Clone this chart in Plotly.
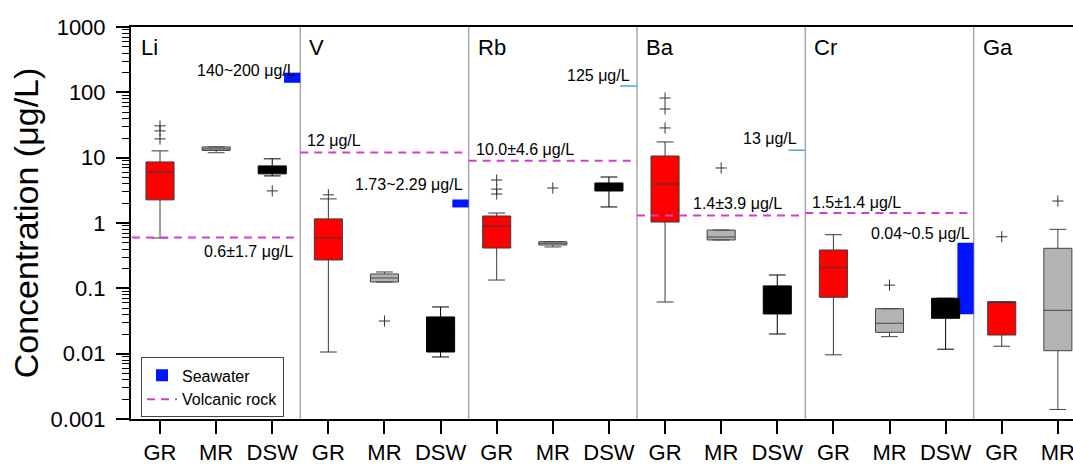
import math
import plotly.graph_objects as go

# ---------------- data ----------------
elements = ["Li", "V", "Rb", "Ba", "Cr", "Ga"]
groups = ["GR", "MR", "DSW"]

# GR (groundwater) box statistics, one per element
gr_lo = [0.59, 0.0106, 0.134, 0.0618, 0.0096, 0.013]
gr_q1 = [2.26, 0.272, 0.414, 1.035, 0.073, 0.0193]
gr_med = [6.07, 0.59, 0.90, 3.95, 0.207, 0.0625]
gr_q3 = [8.6, 1.156, 1.28, 10.6, 0.386, 0.0625]
gr_hi = [12.7, 2.34, 1.42, 17.4, 0.662, 0.0625]
gr_out = [[19.4, 25.7, 30.7], [2.7], [2.78, 3.3, 4.55], [28.5, 55.6, 81.9], [], [0.616]]

# MR box statistics
mr_lo = [11.9, 0.125, 0.43, 0.55, 0.0182, 0.0014]
mr_q1 = [12.9, 0.125, 0.46, 0.55, 0.0212, 0.0111]
mr_med = [13.6, 0.144, 0.49, 0.61, 0.0292, 0.0461]
mr_q3 = [14.6, 0.166, 0.518, 0.78, 0.0488, 0.41]
mr_hi = [14.6, 0.178, 0.518, 0.78, 0.0488, 0.80]
mr_out = [[], [0.0316], [3.43], [6.95], [0.112], [2.17]]

# DSW box statistics (Ga DSW lies outside the visible area)
dsw_lo = [5.26, 0.0089, 1.76, 0.020, 0.0117]
dsw_q1 = [5.65, 0.0106, 3.09, 0.0405, 0.0348]
dsw_med = [6.3, 0.020, 3.5, 0.065, 0.050]
dsw_q3 = [7.48, 0.0365, 4.1, 0.109, 0.0705]
dsw_hi = [9.6, 0.0519, 5.06, 0.16, 0.0705]
dsw_out = [[3.1], [], [], [], []]

# Seawater reference (range or single value)
sw_low = [140, 1.73, None, None, 0.04, None]
sw_high = [200, 2.29, None, None, 0.5, None]
sw_single = [None, None, 125, 13, None, None]
sw_text = ["140~200 μg/L", "1.73~2.29 μg/L", "125 μg/L", "13 μg/L", "0.04~0.5 μg/L", None]

# Volcanic rock reference
volc = [0.6, 12, 9.0, 1.3, 1.42, None]
volc_text = ["0.6±1.7 μg/L", "12 μg/L", "10.0±4.6 μg/L", "1.4±3.9 μg/L", "1.5±1.4 μg/L", None]

y_tickvals = [0.001, 0.01, 0.1, 1, 10, 100, 1000]
y_ticktext = ["0.001", "0.01", "0.1", "1", "10", "100", "1000"]

# ---------------- styling / layout constants ----------------
FONT = "Liberation Sans, Arial, sans-serif"
RED = "#ff0000"
GREY = "#b3b3b3"
BLACK = "#000000"
BLUE = "#0014ff"
LIGHTBLUE = "#4fa3d9"
MAGENTA = "#d040d0"
BOX_W = 0.5
SW_W = 0.29

fig = go.Figure()


def add_boxes(idx, lo, q1, med, q3, hi, outs, fill, line, name):
    xs = [3 * p + idx for p in range(len(q1))]
    fig.add_trace(go.Box(
        x=xs, q1=q1, median=med, q3=q3, lowerfence=lo, upperfence=hi,
        width=BOX_W, whiskerwidth=0.6, fillcolor=fill,
        line=dict(color=line, width=1), boxpoints=False,
        showlegend=False, name=name, hoverinfo="skip"))
    ox, oy = [], []
    for p, vals in enumerate(outs):
        for v in vals:
            ox.append(3 * p + idx)
            oy.append(v)
    fig.add_trace(go.Scatter(
        x=ox, y=oy, mode="markers", showlegend=False, hoverinfo="skip",
        marker=dict(symbol="cross-thin", size=8, line=dict(color="#333333", width=1))))


add_boxes(0, gr_lo, gr_q1, gr_med, gr_q3, gr_hi, gr_out, RED, "#3a3a3a", "GR")
add_boxes(1, mr_lo, mr_q1, mr_med, mr_q3, mr_hi, mr_out, GREY, "#444444", "MR")
add_boxes(2, dsw_lo, dsw_q1, dsw_med, dsw_q3, dsw_hi, dsw_out, BLACK, "#000000", "DSW")

# Seawater ranges as floating bars at the right end of each panel
bx, bbase, bsize = [], [], []
for p in range(len(elements)):
    if sw_low[p] is not None:
        bx.append(3 * p + 2.5 - SW_W / 2)
        bbase.append(sw_low[p])
        bsize.append(sw_high[p] - sw_low[p])
fig.add_trace(go.Bar(
    x=bx, y=bsize, base=bbase, width=SW_W, name="Seawater",
    marker=dict(color=BLUE, line=dict(width=0)), showlegend=True,
    legendrank=1, hoverinfo="skip"))

# Seawater single values as short light-blue lines
for p in range(len(elements)):
    if sw_single[p] is not None:
        fig.add_trace(go.Scatter(
            x=[3 * p + 2.5 - 0.3, 3 * p + 2.5], y=[sw_single[p]] * 2, mode="lines",
            line=dict(color=LIGHTBLUE, width=1.5), showlegend=False, hoverinfo="skip"))

# Volcanic rock dashed lines spanning each panel
first = True
for p in range(len(elements)):
    if volc[p] is not None:
        fig.add_trace(go.Scatter(
            x=[3 * p - 0.5, 3 * p + 2.5], y=[volc[p]] * 2, mode="lines",
            line=dict(color=MAGENTA, width=2, dash="8px,6px"),
            name="Volcanic rock", legendgroup="volc", showlegend=first,
            legendrank=2, hoverinfo="skip"))
        first = False

# Panel separators and panel labels
shapes = []
annotations = []
for p in range(len(elements)):
    if p > 0:
        shapes.append(dict(type="line", xref="x", yref="paper", x0=3 * p - 0.5, x1=3 * p - 0.5,
                           y0=0, y1=1, line=dict(color="#a9a9a9", width=1.5), layer="below"))
    annotations.append(dict(x=3 * p - 0.5, xref="x", y=1, yref="paper", text=elements[p],
                            showarrow=False, xanchor="left", yanchor="middle",
                            xshift=7, yshift=-20, font=dict(size=22, color="black", family=FONT)))

# Reference labels: (anchor side, xshift, yshift)
sw_pos = [("end", -2, 2), ("end", -4, 15), ("end", -5, 11), ("end", -6, 12), ("end", -2, 9), None]
volc_pos = [("end", -5, -14), ("start", 5, 12), ("start", 5, 11), ("start", 54, 12), ("start", 5, 11), None]

for p in range(len(elements)):
    if sw_text[p] is not None:
        side, dx, dy = sw_pos[p]
        yv = sw_high[p] if sw_high[p] is not None else sw_single[p]
        annotations.append(dict(
            x=3 * p + 2.5 if side == "end" else 3 * p - 0.5, xref="x", y=math.log10(yv), yref="y",
            text=sw_text[p], showarrow=False,
            xanchor="right" if side == "end" else "left", yanchor="middle",
            xshift=dx, yshift=dy, font=dict(size=16, color="black", family=FONT)))
    if volc_text[p] is not None:
        side, dx, dy = volc_pos[p]
        annotations.append(dict(
            x=3 * p + 2.5 if side == "end" else 3 * p - 0.5, xref="x", y=math.log10(volc[p]), yref="y",
            text=volc_text[p], showarrow=False,
            xanchor="right" if side == "end" else "left", yanchor="middle",
            xshift=dx, yshift=dy, font=dict(size=16, color="black", family=FONT)))

minor_vals = [m * 10 ** d for d in range(-3, 3) for m in range(2, 10)]
n_ticks = 17

fig.update_layout(
    width=1073, height=464,
    margin=dict(l=131, r=0, t=27, b=45),
    paper_bgcolor="white", plot_bgcolor="white",
    font=dict(family=FONT, color="black"),
    boxmode="overlay", barmode="overlay",
    shapes=shapes, annotations=annotations,
    legend=dict(x=0.0106, y=0.004, xanchor="left", yanchor="bottom",
                bgcolor="white", bordercolor="#444444", borderwidth=1,
                font=dict(size=16, color="black", family=FONT),
                traceorder="normal", tracegroupgap=0),
    xaxis=dict(range=[-0.517, 16.27], tickmode="array", tickvals=list(range(n_ticks)),
               ticktext=[groups[i % 3] for i in range(n_ticks)],
               ticks="outside", ticklen=13, tickwidth=2, tickcolor="black",
               showline=True, linewidth=2, linecolor="black", mirror=True,
               showgrid=False, zeroline=False, automargin=False,
               ticklabeloverflow="allow",
               tickfont=dict(size=22, color="black", family=FONT)),
    yaxis=dict(type="log", range=[-3, 3], tickmode="array",
               tickvals=y_tickvals, ticktext=y_ticktext,
               ticks="outside", ticklen=13, tickwidth=1.5, tickcolor="black",
               showline=True, linewidth=2, linecolor="black",
               showgrid=False, zeroline=False, automargin=False,
               ticklabelstandoff=6,
               minor=dict(ticks="outside", ticklen=7, tickwidth=1, tickcolor="black",
                          tickmode="array", tickvals=minor_vals, showgrid=False),
               tickfont=dict(size=22, color="black", family=FONT),
               title=dict(text="Concentration (μg/L)", standoff=2,
                          font=dict(size=34, color="black", family=FONT))),
)

fig.write_html("out.html")
